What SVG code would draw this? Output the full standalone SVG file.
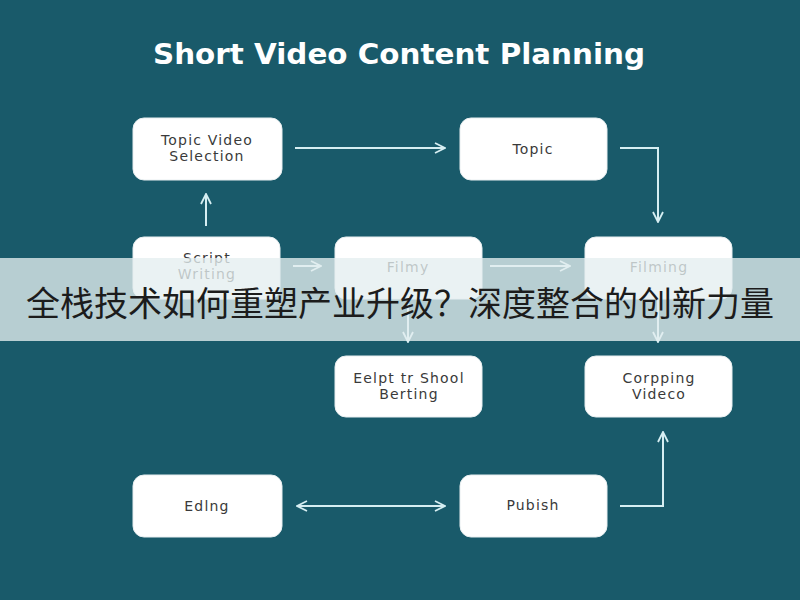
<svg xmlns="http://www.w3.org/2000/svg" width="800" height="600" viewBox="0 0 800 600">
<defs>
<style>
.node rect{fill:#ffffff;stroke:#e8eef0;stroke-width:1}
.node text{font-family:"DejaVu Sans","Liberation Sans",sans-serif;font-size:14px;letter-spacing:1.2px;fill:#3a3a3a;text-anchor:middle}
.conn path{fill:none;stroke:#d6eef2;stroke-width:2}
</style>
<marker id="ah" viewBox="0 0 12 12" refX="11" refY="6" markerWidth="12" markerHeight="12" markerUnits="userSpaceOnUse" orient="auto-start-reverse">
<path d="M1,1 L11,6 L1,11" fill="none" stroke="#d6eef2" stroke-width="1.8"/>
</marker>
</defs>
<rect x="0" y="0" width="800" height="600" fill="#195a6a"/>
<text x="399" y="64" font-family="DejaVu Sans,Verdana,sans-serif" font-weight="bold" font-size="28" fill="#ffffff" text-anchor="middle" textLength="492" lengthAdjust="spacingAndGlyphs">Short Video Content Planning</text>

<g class="conn">
<path d="M295,148 H445" marker-end="url(#ah)"/>
<path d="M620,148 H658 V222" marker-end="url(#ah)"/>
<path d="M206,226 V194" marker-end="url(#ah)"/>
<path d="M293,266 H321" marker-end="url(#ah)"/>
<path d="M490,266 H570" marker-end="url(#ah)"/>
<path d="M408,300 V342" marker-end="url(#ah)"/>
<path d="M658,300 V342" marker-end="url(#ah)"/>
<path d="M297,506 H445" marker-start="url(#ah)" marker-end="url(#ah)"/>
<path d="M620,506 H663 V432" marker-end="url(#ah)"/>
</g>

<g id="n_topic_video" class="node"><rect x="133" y="118" width="149" height="62" rx="11"/><text x="207" y="145">Topic Video</text><text x="207" y="161">Selection</text></g>
<g id="n_topic" class="node"><rect x="460" y="118" width="147" height="62" rx="11"/><text x="533" y="154">Topic</text></g>
<g id="n_script" class="node"><rect x="133" y="237" width="147" height="62" rx="11"/><text x="207" y="263">Script</text><text x="207" y="279">Writing</text></g>
<g id="n_filmy" class="node"><rect x="335" y="237" width="147" height="62" rx="11"/><text x="408" y="272">Filmy</text></g>
<g id="n_filming" class="node"><rect x="585" y="237" width="147" height="62" rx="11"/><text x="659" y="272">Filming</text></g>
<g id="n_eelpt" class="node"><rect x="335" y="356" width="147" height="61" rx="11"/><text x="409" y="383">Eelpt tr Shool</text><text x="409" y="399">Berting</text></g>
<g id="n_corpping" class="node"><rect x="585" y="356" width="147" height="61" rx="11"/><text x="659" y="383">Corpping</text><text x="659" y="399">Videco</text></g>
<g id="n_edlng" class="node"><rect x="133" y="475" width="149" height="62" rx="11"/><text x="207" y="511">Edlng</text></g>
<g id="n_pubish" class="node"><rect x="460" y="475" width="147" height="62" rx="11"/><text x="533" y="510">Pubish</text></g>

<rect x="0" y="258" width="800" height="83" fill="#e4eef0" opacity="0.78"/>
<text x="400" y="316" font-family="Noto Sans CJK SC,sans-serif" font-size="34" fill="#1c1c1c" text-anchor="middle">全栈技术如何重塑产业升级？深度整合的创新力量</text>
</svg>
